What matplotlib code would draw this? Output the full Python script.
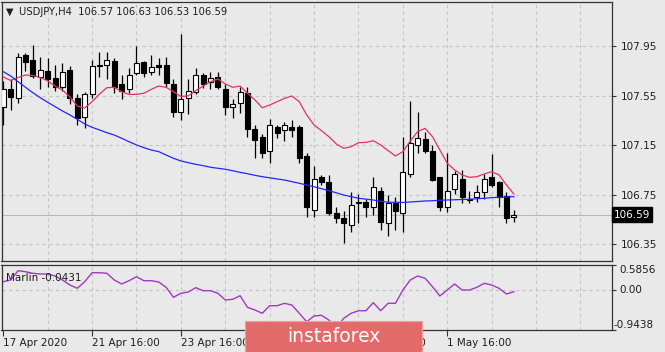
import matplotlib.pyplot as plt
import numpy as np
from matplotlib.patches import Rectangle

# USDJPY H4 Kerzen
opens = [107.46, 107.60, 107.53, 107.88, 107.84, 107.70, 107.75, 107.69, 107.62, 107.76,
         107.53, 107.38, 107.56, 107.79, 107.80, 107.83, 107.64, 107.60, 107.73, 107.82,
         107.74, 107.80, 107.80, 107.64, 107.42, 107.53, 107.58, 107.72, 107.66, 107.70,
         107.60, 107.46, 107.49, 107.57, 107.28, 107.22, 107.10, 107.30, 107.27, 107.30,
         107.30, 107.06, 106.63, 106.89, 106.85, 106.60, 106.56, 106.51, 106.68, 106.69,
         106.65, 106.78, 106.52, 106.68, 106.60, 106.92, 107.15, 107.20, 107.10, 106.89,
         106.65, 106.80, 106.88, 106.72, 106.73, 106.77, 106.89, 106.85, 106.74, 106.57]
highs = [107.67, 107.68, 107.89, 107.89, 107.96, 107.86, 107.85, 107.80, 107.81, 107.79,
         107.56, 107.58, 107.84, 107.90, 107.90, 107.85, 107.72, 107.77, 107.95, 107.83,
         107.88, 107.85, 107.86, 107.68, 108.05, 107.68, 107.77, 107.73, 107.74, 107.74,
         107.64, 107.52, 107.62, 107.62, 107.31, 107.24, 107.36, 107.31, 107.34, 107.35,
         107.31, 107.09, 106.98, 106.91, 106.91, 106.65, 106.62, 106.77, 106.76, 106.72,
         106.89, 106.81, 106.75, 106.73, 107.22, 107.51, 107.42, 107.26, 107.15, 106.89,
         107.09, 106.94, 106.95, 106.78, 106.83, 106.92, 107.08, 106.86, 106.77, 106.63]
lows = [107.31, 107.43, 107.49, 107.75, 107.69, 107.60, 107.62, 107.59, 107.59, 107.48,
        107.31, 107.29, 107.53, 107.70, 107.68, 107.57, 107.52, 107.57, 107.72, 107.70,
        107.72, 107.72, 107.62, 107.38, 107.35, 107.40, 107.56, 107.61, 107.60, 107.60,
        107.39, 107.37, 107.41, 107.22, 107.05, 107.05, 107.01, 107.21, 107.18, 107.22,
        107.01, 106.57, 106.57, 106.83, 106.59, 106.52, 106.36, 106.45, 106.52, 106.57,
        106.59, 106.47, 106.42, 106.47, 106.45, 106.89, 107.09, 107.09, 106.86, 106.62,
        106.61, 106.76, 106.68, 106.68, 106.69, 106.72, 106.81, 106.65, 106.52, 106.53]
closes = [107.60, 107.54, 107.86, 107.82, 107.71, 107.76, 107.68, 107.62, 107.74, 107.53,
          107.37, 107.56, 107.79, 107.80, 107.84, 107.62, 107.59, 107.72, 107.81, 107.73,
          107.78, 107.78, 107.65, 107.42, 107.52, 107.59, 107.72, 107.64, 107.69, 107.62,
          107.46, 107.48, 107.58, 107.28, 107.19, 107.09, 107.31, 107.25, 107.31, 107.27,
          107.05, 106.65, 106.88, 106.85, 106.60, 106.56, 106.52, 106.67, 106.69, 106.65,
          106.81, 106.53, 106.68, 106.62, 106.93, 107.17, 107.21, 107.10, 106.87, 106.65,
          106.78, 106.92, 106.73, 106.71, 106.77, 106.88, 106.83, 106.73, 106.56, 106.59]

# gleitende Durchschnitte (rot = kurz, blau = lang)
ma_fast = [107.700, 107.672, 107.696, 107.716, 107.712, 107.696, 107.668, 107.627, 107.595, 107.539,
           107.466, 107.450, 107.501, 107.563, 107.614, 107.617, 107.581, 107.560, 107.560, 107.569,
           107.601, 107.627, 107.617, 107.581, 107.543, 107.547, 107.590, 107.627, 107.662, 107.684,
           107.644, 107.617, 107.627, 107.569, 107.515, 107.452, 107.474, 107.501, 107.528, 107.547,
           107.501, 107.394, 107.313, 107.267, 107.219, 107.160, 107.125, 107.138, 107.170, 107.173,
           107.186, 107.152, 107.106, 107.063, 107.098, 107.184, 107.260, 107.286, 107.219, 107.111,
           107.004, 106.950, 106.910, 106.891, 106.896, 106.918, 106.936, 106.910, 106.829, 106.756]
ma_slow = [107.743, 107.708, 107.662, 107.617, 107.573, 107.533, 107.496, 107.461, 107.426, 107.394,
           107.359, 107.321, 107.294, 107.273, 107.251, 107.232, 107.206, 107.178, 107.152, 107.130,
           107.111, 107.098, 107.071, 107.044, 107.023, 107.009, 106.996, 106.985, 106.972, 106.964,
           106.956, 106.944, 106.931, 106.920, 106.907, 106.896, 106.887, 106.878, 106.869, 106.856,
           106.843, 106.829, 106.815, 106.799, 106.783, 106.766, 106.748, 106.735, 106.722, 106.715,
           106.708, 106.698, 106.690, 106.690, 106.688, 106.692, 106.696, 106.700, 106.702, 106.706,
           106.708, 106.710, 106.712, 106.714, 106.718, 106.722, 106.727, 106.730, 106.732, 106.735]

# Marlin-Oszillator
marlin = [0.193, 0.233, 0.452, 0.428, 0.390, 0.374, 0.374, 0.327, 0.233, 0.115,
          0.037, 0.193, 0.404, 0.404, 0.390, 0.233, 0.139, 0.216, 0.310, 0.216,
          0.216, 0.186, 0.061, -0.174, -0.080, -0.050, 0.052, -0.019, -0.019, -0.080,
          -0.238, -0.221, -0.137, -0.410, -0.473, -0.551, -0.372, -0.372, -0.316, -0.356,
          -0.551, -0.749, -0.614, -0.598, -0.709, -0.900, -0.669, -0.551, -0.490, -0.490,
          -0.301, -0.490, -0.316, -0.316, -0.003, 0.233, 0.327, 0.273, 0.075, -0.144,
          -0.003, 0.139, -0.003, -0.003, 0.061, 0.155, 0.115, 0.037, -0.097, -0.0431]

date_labels = ['17 Apr 2020', '21 Apr 16:00', '23 Apr 16:00', '27 Apr 16:00',
               '29 Apr 16:00', '1 May 16:00']
date_pos = [0, 12, 24, 36, 48, 60]
price_ticks = [106.35, 106.75, 107.15, 107.55, 107.95]
last_price = 106.59

bg = '#e9e9e9'
grid_col = '#c4c4c4'
txt_col = '#1e1e1e'
W, H = 665, 352

fig = plt.figure(figsize=(W / 100, H / 100), dpi=100, facecolor=bg)
ax = fig.add_axes([1.5 / W, 1 - 261 / H, 610.5 / W, 259 / H], facecolor=bg)
ax2 = fig.add_axes([1.5 / W, 1 - 330 / H, 610.5 / W, 65 / H], facecolor=bg, sharex=ax)

x = np.arange(len(opens))
o = np.array(opens)
c = np.array(closes)
up = c >= o

# Gitter
for gx in range(6, 84, 6):
    for a in (ax, ax2):
        a.axvline(gx, color=grid_col, lw=0.8, ls=(0, (3, 3)), zorder=0)
for py in price_ticks:
    ax.axhline(py, color=grid_col, lw=0.8, ls=(0, (3, 3)), zorder=0)
ax2.axhline(0, color=grid_col, lw=0.8, ls=(0, (3, 3)), zorder=0)
ax.axhline(last_price, color='#b8b8b8', lw=0.8, zorder=0)

# Kerzen
ax.vlines(x, lows, highs, color='black', lw=0.9, zorder=2)
ax.bar(x, np.abs(c - o), bottom=np.minimum(o, c), width=0.68,
       color=np.where(up, 'white', 'black'), edgecolor='black', linewidth=0.8, zorder=3)

ax.plot(x, ma_fast, color='#e2345e', lw=0.9, zorder=4)
ax.plot(x, ma_slow, color='#2525ff', lw=0.9, zorder=4)
ax2.plot(x, marlin, color='#a238c4', lw=1.0)

ax.set_xlim(-0.243, 82.26)
ax.set_ylim(106.216, 108.305)
ax2.set_ylim(-0.9438, 0.5856)

for a in (ax, ax2):
    for s in a.spines.values():
        s.set_color('#333333')
        s.set_linewidth(0.9)
    a.yaxis.tick_right()
    a.tick_params(axis='y', direction='out', length=3, color='#333333', labelsize=7.5,
                  labelcolor=txt_col, pad=3)

ax.set_yticks(price_ticks)
ax.set_yticklabels([f'{p:.2f}' for p in price_ticks])
ax.tick_params(axis='x', bottom=False, labelbottom=False)

ax2.set_yticks([0.5856, 0.0, -0.9438])
ax2.set_yticklabels([])
tr = ax2.get_yaxis_transform()
ax2.text(1.012, 0.5856, '0.5856', transform=tr, va='top', ha='left', fontsize=7.5, color=txt_col)
ax2.text(1.012, 0.0, '0.00', transform=tr, va='center', ha='left', fontsize=7.5, color=txt_col)
ax2.text(1.003, -0.9438, '-0.9438', transform=tr, va='bottom', ha='left', fontsize=7.5, color=txt_col)

ax2.set_xticks(date_pos)
ax2.set_xticklabels(date_labels, ha='left')
ax2.tick_params(axis='x', direction='out', length=4, color='#333333', labelsize=7.5,
                labelcolor=txt_col, pad=2)

# aktueller Kurs
ax.text(1.003, last_price, f'{last_price:.2f}', transform=ax.get_yaxis_transform(),
        va='center', ha='left', fontsize=7.5, color='white',
        bbox=dict(facecolor='black', edgecolor='black', pad=1.6))

# Kopfzeile
fig.text(6 / W, 1 - 12 / H, '▼', fontsize=7, color=txt_col, va='center')
fig.text(19 / W, 1 - 12 / H, 'USDJPY,H4  106.57 106.63 106.53 106.59',
         fontsize=7.2, color=txt_col, va='center')
ax2.text(0.008, 0.8, 'Marlin -0.0431', transform=ax2.transAxes, fontsize=7.5,
         color=txt_col, va='center')

# Wasserzeichen
fig.patches.append(Rectangle((245 / W, 0), 177 / W, 31 / H, transform=fig.transFigure,
                             facecolor='#e36a6a', edgecolor='#f0a0a0', lw=0.8, zorder=10))
fig.text(333.5 / W, 15.5 / H, 'instaforex', fontsize=13.5, color='white',
         ha='center', va='center', zorder=11)

fig.savefig('out.png', dpi=100, facecolor=bg)
